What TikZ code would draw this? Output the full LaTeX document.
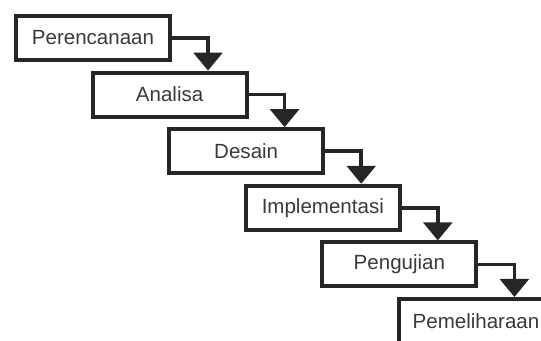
\documentclass[tikz,border=0pt]{standalone}
\usepackage{fontspec}
\setmainfont{Liberation Sans}
\usetikzlibrary{arrows.meta}
\definecolor{edge}{HTML}{262626}
\definecolor{txt}{HTML}{3A3A3A}
\tikzset{
  stepbox/.style={draw=edge, fill=white, line width=3pt, minimum width=115.5pt, minimum height=33pt, inner sep=0pt, text=txt, font=\fontsize{15.4pt}{18pt}\selectfont},
  conn/.style={draw=edge, line width=2.8pt, -{Triangle[width=21.5pt,length=13.5pt]}}
}
\begin{document}
\begin{tikzpicture}[x=0.75pt,y=-0.75pt]
\useasboundingbox (0,0) rectangle (541,341);
\clip (0,0) rectangle (541,341);
\fill[white] (0,0) rectangle (541,341);
\node[stepbox] (b1) at (93,38) {Perencanaan};
\node[stepbox] (b2) at (169.6,94.6) {Analisa};
\node[stepbox] (b3) at (246.2,151.2) {Desain};
\node[stepbox] (b4) at (322.8,207.8) {Implementasi};
\node[stepbox] (b5) at (399.4,264.4) {Pengujian};
\node[stepbox] (b6) at (476,321) {Pemeliharaan};
\foreach \a/\b in {b1/b2,b2/b3,b3/b4,b4/b5,b5/b6}{
  \draw[conn] (\a.east) -| ([xshift=27pt]\a.east |- \b.north);
}
\end{tikzpicture}
\end{document}
